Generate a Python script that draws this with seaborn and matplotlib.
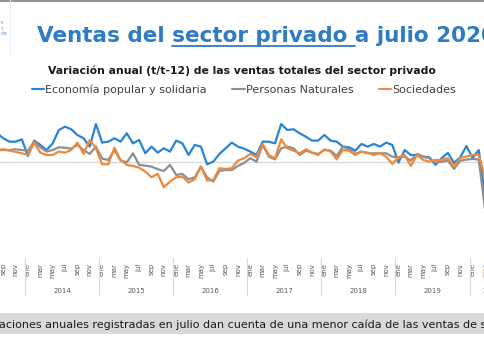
import numpy as np
import pandas as pd
import matplotlib
matplotlib.use("Agg")
import matplotlib.pyplot as plt
import matplotlib.transforms as mtransforms
from matplotlib.lines import Line2D
from matplotlib.patches import Rectangle
import seaborn as sns

# Variacion anual (%) mensual, desde ago-2013 hasta mar-2020
# indice 0 = ene-2014
inicio = -5
economia_popular = [18.5, 15.3, 13.1, 13.1, 14.6,
                    3.9, 13.8, 11.0, 7.7, 12.0, 20.6, 22.8, 21.1, 17.4, 15.3, 9.9, 24.5,
                    12.5, 13.1, 15.3, 13.1, 18.5, 12.0, 14.2, 5.6, 9.9, 6.0, 8.8, 6.7,
                    13.8, 12.0, 4.5, 11.0, 9.9, -1.5, 0.2, 5.2, 8.8, 12.5, 9.9, 8.6,
                    6.7, 4.5, 13.1, 13.1, 12.0, 24.5, 20.6, 21.1, 18.5, 16.3, 13.8, 13.8,
                    17.4, 13.8, 13.1, 9.9, 9.5, 7.3, 11.6, 9.9, 11.6, 9.9, 12.5, 11.0,
                    -0.4, 7.7, 4.5, 4.5, 3.4, 3.0, -1.9, 2.5, 5.8, -0.6, 3.0, 10.3,
                    2.6, 7.7, -22.0]
personas_naturales = [7.7, 7.7, 7.7, 8.2, 7.7,
                      7.3, 13.1, 9.5, 6.7, 7.7, 9.5, 9.2, 8.6, 11.0, 7.7, 5.2, 9.9,
                      2.2, 1.3, 7.7, 0.9, -0.2, 5.6, -1.9, -2.4, -3.0, -4.7, -5.8, -1.9,
                      -8.4, -7.7, -11.2, -9.9, -3.0, -9.9, -12.7, -5.8, -5.2, -5.2, -2.6, -0.6,
                      2.4, 0.2, 11.0, 3.4, 1.7, 8.8, 9.9, 8.8, 4.5, 7.3, 6.0, 5.2,
                      7.7, 7.3, 3.9, 9.9, 8.2, 5.2, 6.7, 5.6, 5.6, 5.6, 5.6, 3.4,
                      3.0, 3.4, 0.9, 5.2, 3.4, 2.4, -0.4, 0.2, 0.9, -4.5, 0.8, 1.5,
                      2.0, 1.5, -30.0]
sociedades = [7.7, 8.2, 7.3, 6.5, 5.6,
              4.5, 12.5, 6.0, 4.5, 4.5, 6.7, 6.0, 7.7, 12.5, 5.2, 14.2, 8.8,
              -1.5, -1.5, 9.2, 1.3, -1.9, -2.6, -3.7, -6.2, -9.9, -7.7, -16.3, -12.7,
              -9.9, -9.5, -13.3, -11.2, -3.0, -12.0, -11.6, -4.1, -4.5, -4.1, 0.9, 2.4,
              5.2, 3.0, 11.6, 4.5, 2.4, 14.6, 8.8, 7.3, 5.6, 8.2, 6.0, 4.5,
              8.2, 6.7, 1.7, 7.7, 7.3, 4.5, 6.7, 6.0, 4.5, 5.6, 3.4, -1.3,
              3.0, 4.5, -2.6, 4.5, 1.3, 0.2, 1.3, 1.3, 2.4, -3.0, 2.6, 3.5,
              4.5, 4.5, -10.0]

series = ["Economía popular y solidaria", "Personas Naturales", "Sociedades"]
colores = ["#2b84d3", "#8f8f8f", "#ef8a3c"]
meses = ["ene", "feb", "mar", "abr", "may", "jun", "jul", "ago", "sep", "oct", "nov", "dic"]
anios = [2014, 2015, 2016, 2017, 2018, 2019, 2020]
ultimo_mes = 78  # jul-2020

idx = np.arange(inicio, inicio + len(economia_popular))
df = pd.concat([
    pd.DataFrame({"mes": idx, "valor": economia_popular, "serie": series[0]}),
    pd.DataFrame({"mes": idx, "valor": personas_naturales, "serie": series[1]}),
    pd.DataFrame({"mes": idx, "valor": sociedades, "serie": series[2]}),
])

sns.set_style("white")
plt.rcParams["font.family"] = ["DejaVu Sans"]

W, H = 485, 360
fig = plt.figure(figsize=(W / 100, H / 100), dpi=100)
ax = fig.add_axes([0, 102 / H, 1, 158 / H])

ax.axhline(0, color="#d9d9d9", lw=1, zorder=0)
sns.lineplot(data=df, x="mes", y="valor", hue="serie", palette=colores,
             hue_order=series, lw=1.6, ax=ax, legend=False)

sns.despine(ax=ax, left=True, bottom=True)
ax.set_ylabel("")
ax.set_xlabel("")
ax.set_yticks([])

# solo los meses que caen dentro del recorte
ticks = [i for i in range(-4, 75) if i % 2 == 0]
ax.set_xticks(ticks)
ax.set_xticklabels([meses[i % 12] for i in ticks], rotation=90, fontsize=5, color="#595959")
ax.tick_params(axis="x", length=0, pad=3.6)
for t, i in zip(ax.get_xticklabels(), ticks):
    if i >= 74:
        t.set_color("#ef8a3c")

# limites despues de los ticks (set_xticks los amplia)
ax.set_xlim(-28 / 6.175, (W - 28) / 6.175)
ax.set_ylim(-62, 40)

trans = mtransforms.blended_transform_factory(ax.transData, ax.transAxes)
for a in anios:
    xs = 12 * (a - 2014) - 0.5
    ax.add_line(Line2D([xs, xs], [0, -0.234], transform=trans, color="#d9d9d9",
                       lw=0.8, clip_on=False))
for a in anios:
    if a == 2020:
        xc = (72 + ultimo_mes) / 2
    else:
        xc = 12 * (a - 2014) + 5.5
    ax.text(xc, -0.212, str(a), transform=trans, ha="center", va="center",
            fontsize=5, color="#595959", clip_on=False)

# titulo
azul = "#2f7bc4"
fig.add_artist(Line2D([0, 1], [1 - 0.5 / H, 1 - 0.5 / H], color="#7f7f7f", lw=1.2))
fig.add_artist(Line2D([10 / W, 10 / W], [1 - 55 / H, 1], color="#f0f0f0", lw=0.8))
fig.text(1 / W, 1 - 21 / H, "E\nY\nÓN", fontsize=3.2, color="#4a7fd0", va="top",
         linespacing=1.5)
titulo = "Ventas del sector privado a julio 2020"
tx = 37 / W
fs_titulo = 15.5
fig.text(tx, 1 - 42 / H, titulo, fontsize=fs_titulo, fontweight="bold", color=azul,
         va="baseline")
fig.canvas.draw()
r = fig.canvas.get_renderer()


def ancho(s):
    t = fig.text(0, 0, s, fontsize=fs_titulo, fontweight="bold")
    w = t.get_window_extent(r).width
    t.remove()
    return w / W


x0 = tx + ancho("Ventas del ")
x1 = tx + ancho("Ventas del sector privado ")
fig.add_artist(Line2D([x0, x1], [1 - 46 / H, 1 - 46 / H], color=azul, lw=1.3))

fig.text(242 / W, 1 - 74 / H, "Variación anual (t/t-12) de las ventas totales del sector privado",
         ha="center", va="baseline", fontsize=7.8, fontweight="bold", color="#1a1a1a")

handles = [Line2D([], [], color=c, lw=1.5) for c in colores]
fig.legend(handles, series, loc="center", bbox_to_anchor=(244 / W, 1 - 90 / H),
           ncol=3, frameon=False, fontsize=8, handlelength=1.1, handletextpad=0.1,
           columnspacing=2.3, labelcolor="#404040")

# nota inferior
fig.add_artist(Rectangle((0, (H - 334) / H), 1, 21 / H, color="#d9d9d9", lw=0))
fig.text(-1 / W, 1 - 328 / H,
         "aciones anuales registradas en julio dan cuenta de una menor caída de las ventas de sociedades",
         fontsize=8.0, color="#1a1a1a", va="baseline")

fig.savefig("out.png", dpi=100)
